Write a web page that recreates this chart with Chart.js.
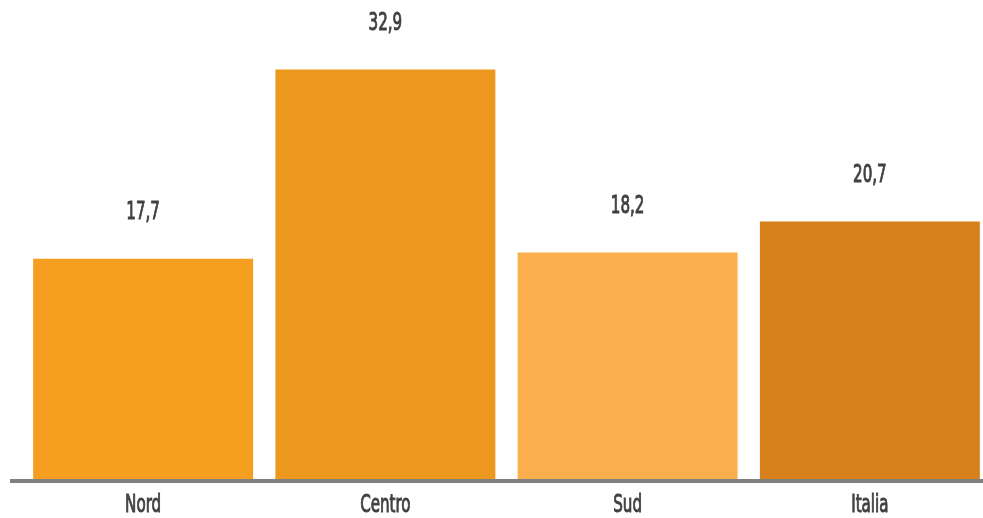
<!DOCTYPE html>
<html>
<head>
<meta charset="utf-8">
<script src="https://cdn.jsdelivr.net/npm/chart.js@4"></script>
<style>
    html, body { margin: 0; padding: 0; background: #fff; overflow: hidden; }
    #wrap { width: 1000px; height: 518px; position: relative; }
</style>
</head>
<body>
<div id="wrap"><canvas id="chart1"></canvas></div>
<script>
// Chart data
const regions = ['Nord', 'Centro', 'Sud', 'Italia'];
const values = [17.7, 32.9, 18.2, 20.7];
const barColors = ['#F69E1F', '#EC981E', '#FAAE4C', '#D6801B'];

const labelFont = '24px "DejaVu Sans Condensed", "DejaVu Sans", sans-serif';
const squeeze = 0.7; // the original uses a very narrow typeface

function drawNarrow(ctx, text, x, y) {
    ctx.save();
    ctx.translate(x, y);
    ctx.scale(squeeze, 1);
    ctx.fillText(text, 0, 0);
    ctx.strokeText(text, 0, 0);
    ctx.restore();
}

// Value labels, category labels and the gray baseline
const overlay = {
    id: 'overlay',
    afterDatasetsDraw(chart) {
        const ctx = chart.ctx;
        const xScale = chart.scales.x;
        const yScale = chart.scales.y;
        const y0 = yScale.getPixelForValue(0);
        ctx.save();
        ctx.fillStyle = '#808080';
        ctx.fillRect(10, y0, chart.width, 4);

        ctx.fillStyle = '#404040';
        ctx.strokeStyle = '#404040';
        ctx.lineWidth = 0.9;
        ctx.font = labelFont;
        ctx.textAlign = 'center';
        ctx.textBaseline = 'middle';
        chart.getDatasetMeta(0).data.forEach((bar, i) => {
            const label = values[i].toFixed(1).replace('.', ',');
            drawNarrow(ctx, label, bar.x, bar.y - 46);
        });
        regions.forEach((name, i) => {
            drawNarrow(ctx, name, xScale.getPixelForValue(i), y0 + 27);
        });
        ctx.restore();
    }
};

const ctx1 = document.getElementById('chart1').getContext('2d');
const chart1 = new Chart(ctx1, {
    type: 'bar',
    data: {
        labels: regions,
        datasets: [{
            data: values,
            backgroundColor: barColors,
            borderWidth: 0,
            categoryPercentage: 1,
            barPercentage: 0.908
        }]
    },
    options: {
        responsive: true,
        maintainAspectRatio: false,
        animation: false,
        layout: { padding: { left: 22, right: 9, top: 31, bottom: 39 } },
        plugins: {
            legend: { display: false },
            tooltip: { enabled: false }
        },
        scales: {
            x: {
                display: false
            },
            y: {
                display: false,
                min: 0,
                max: 36
            }
        }
    },
    plugins: [overlay]
});
</script>
</body>
</html>
